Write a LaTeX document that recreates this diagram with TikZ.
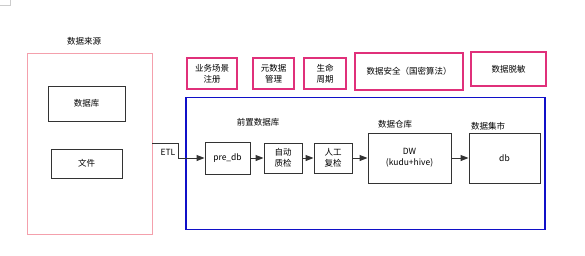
\documentclass[tikz,border=0pt]{standalone}
\usepackage{fontspec}
\setmainfont{Liberation Sans}
\newfontfamily\cjk{Noto Sans CJK SC}
\usetikzlibrary{arrows.meta}
\definecolor{srcpink}{HTML}{F4A0AC}
\definecolor{magbox}{HTML}{E0307A}
\definecolor{bluebox}{HTML}{1010C8}
\definecolor{lineg}{HTML}{333333}
\tikzset{
  srcbox/.style={draw=srcpink, line width=0.9pt, inner sep=0pt},
  topbox/.style={draw=magbox, line width=1.4pt, inner sep=0pt, align=center},
  wbox/.style={draw=lineg, line width=1pt, inner sep=0pt, align=center},
  lbl/.style={inner sep=0pt},
  flow/.style={draw=lineg, line width=1pt, -{Triangle[length=8pt,width=6pt]}},
}
\begin{document}
\begin{tikzpicture}[x=1pt,y=-1pt, font=\cjk\fontsize{8.5}{11}\selectfont]
\useasboundingbox (0,0) rectangle (585,255);
\fill[white] (0,0) rectangle (585,255);
\draw[gray!40, line width=0.6pt] (0,5) -- (10,5) -- (10,0);

% source area
\node[srcbox, minimum width=125, minimum height=181] (src) at (89.5,143.5) {};
\node[lbl] (srct) at (84,41) {数据来源};
\node[wbox, minimum width=77, minimum height=35] (dbs) at (86.5,103.5) {数据库};
\node[wbox, minimum width=71, minimum height=29] (file) at (86.5,163.5) {文件};

% top boxes
\node[topbox, minimum width=50, minimum height=31] (t1) at (212,73.5) {业务场景\\注册};
\node[topbox, minimum width=41, minimum height=31] (t2) at (273.5,73.5) {元数据\\管理};
\node[topbox, minimum width=42, minimum height=31] (t3) at (325,73.5) {生命\\周期};
\node[topbox, minimum width=108, minimum height=37] (t4) at (409,71.5) {数据安全（国密算法）};
\node[topbox, minimum width=75, minimum height=34] (t5) at (508.5,69) {数据脱敏};

% blue area
\node[draw=bluebox, line width=1.3pt, minimum width=359, minimum height=132, inner sep=0pt] (wh) at (365.5,163.5) {};

% labels
\node[lbl] (l1) at (258,122) {前置数据库};
\node[lbl] (l2) at (395,124) {数据仓库};
\node[lbl] (l3) at (488,126) {数据集市};

% flow boxes
\node[wbox, minimum width=45, minimum height=32] (pre) at (227.5,158) {pre\_db};
\node[wbox, minimum width=38, minimum height=30] (qc) at (283,158) {自动\\质检};
\node[wbox, minimum width=38, minimum height=30] (rc) at (333,158) {人工\\复检};
\node[wbox, minimum width=83, minimum height=50] (dw) at (409.5,158) {DW\\(kudu+hive)};
\node[wbox, minimum width=71, minimum height=50] (mart) at (504.5,158) {db};

% ETL connector
\coordinate (e1) at (178,143);
\coordinate (e2) at (178,158);
\draw[flow] (src.east |- e1) -- (e1) -- (e2) -- (pre.west);
\node[lbl] (etl) at (168,152) {ETL};

\draw[flow] (pre) -- (qc);
\draw[flow] (qc) -- (rc);
\draw[flow] (rc) -- (dw);
\draw[flow] (dw) -- (mart);
\end{tikzpicture}
\end{document}
